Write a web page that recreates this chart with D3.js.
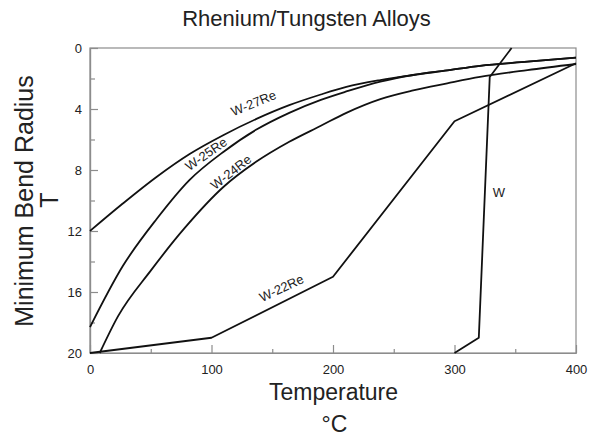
<!DOCTYPE html>
<html>
<head>
<meta charset="utf-8">
<script src="https://cdn.jsdelivr.net/npm/d3@7"></script>
<style>
  html, body { margin: 0; padding: 0; background: #fff; }
  svg { display: block; font-family: "Liberation Sans", Arial, sans-serif; }
</style>
</head>
<body>
<svg id="chart" width="598" height="436"></svg>
<script>
// ---- data ----
const xMajorTicks = [0, 100, 200, 300, 400];
const xMinorTicks = [50, 150, 250, 350];
const yMajorTicks = [0, 4, 8, 12, 16, 20];
const yMinorTicks = [2, 6, 10, 14, 18];

const seriesNames = ["W-27Re", "W-25Re", "W-24Re", "W-22Re", "W"];

const w27Temp = [0, 27, 55, 82, 110, 137, 164, 190, 211, 239, 266, 294, 321, 360, 400];
const w27T    = [12.0, 10.2, 8.44, 6.95, 5.7, 4.65, 3.75, 3.05, 2.55, 2.1, 1.77, 1.47, 1.17, 0.9, 0.63];

const w25Temp = [0, 27, 55, 82, 110, 137, 164, 190, 211, 239, 266, 294, 321, 360, 400];
const w25T    = [18.3, 14.3, 11.2, 8.65, 6.8, 5.35, 4.25, 3.4, 2.85, 2.2, 1.77, 1.47, 1.17, 0.9, 0.63];

const w24Temp = [8, 23, 50, 78, 110, 137, 164, 190, 211, 239, 266, 294, 321, 360, 400];
const w24T    = [20, 17.6, 14.6, 11.8, 9.1, 7.45, 6.15, 5.1, 4.25, 3.35, 2.78, 2.32, 1.9, 1.45, 1.05];

const w22Temp = [0, 100, 200, 300, 400];
const w22T    = [20, 19, 15, 4.8, 1.0];

const wTemp = [300, 320, 329, 347];
const wT    = [20, 19, 1.9, 0];

// ---- layout ----
const svg = d3.select("#chart");
const x = d3.scaleLinear().domain([0, 400]).range([90, 576]);
const y = d3.scaleLinear().domain([0, 20]).range([48, 353]);

const axisColor = "#8c8c8c";
const labelColor = "#222";

// frame
svg.append("rect")
  .attr("x", x(0)).attr("y", y(0))
  .attr("width", x(400) - x(0)).attr("height", y(20) - y(0))
  .attr("fill", "none").attr("stroke", axisColor).attr("stroke-width", 1.2);

// axes
const gx = svg.append("g").attr("transform", `translate(0,${y(20)})`)
  .call(d3.axisBottom(x).tickValues(xMajorTicks).tickSize(-8).tickSizeOuter(0).tickPadding(12).tickFormat(d3.format("d")));
const gxm = svg.append("g").attr("transform", `translate(0,${y(20)})`)
  .call(d3.axisBottom(x).tickValues(xMinorTicks).tickSize(-4).tickSizeOuter(0).tickFormat(""));
const gy = svg.append("g").attr("transform", `translate(${x(0)},0)`)
  .call(d3.axisLeft(y).tickValues(yMajorTicks).tickSize(-8).tickSizeOuter(0).tickPadding(8).tickFormat(d3.format("d")));
const gym = svg.append("g").attr("transform", `translate(${x(0)},0)`)
  .call(d3.axisLeft(y).tickValues(yMinorTicks).tickSize(-5).tickSizeOuter(0).tickFormat(""));

[gx, gxm, gy, gym].forEach(g => {
  g.select(".domain").attr("stroke", axisColor).attr("stroke-width", 1.2);
  g.selectAll(".tick line").attr("stroke", axisColor).attr("stroke-width", 1.2);
  g.selectAll(".tick text").attr("fill", labelColor).attr("font-size", 13)
    .attr("font-family", "'Liberation Sans', Arial, sans-serif");
});

// ---- curves ----
const smooth = d3.line().x(d => x(d[0])).y(d => y(d[1])).curve(d3.curveMonotoneX);
const straight = d3.line().x(d => x(d[0])).y(d => y(d[1]));
const zip = (a, b) => a.map((v, i) => [v, b[i]]);

const curves = [
  { pts: zip(w27Temp, w27T), gen: smooth },
  { pts: zip(w25Temp, w25T), gen: smooth },
  { pts: zip(w24Temp, w24T), gen: smooth },
  { pts: zip(w22Temp, w22T), gen: straight },
  { pts: zip(wTemp, wT), gen: straight }
];
svg.append("g").selectAll("path").data(curves).join("path")
  .attr("d", c => c.gen(c.pts))
  .attr("fill", "none").attr("stroke", "#111").attr("stroke-width", 1.8)
  .attr("stroke-linejoin", "round");

// ---- series labels (domain positions) ----
const labelPos = [
  { t: 134.6, v: 3.61, rot: -22 },
  { t: 95.5, v: 6.95, rot: -35 },
  { t: 116.0, v: 8.13, rot: -38 },
  { t: 157.6, v: 15.74, rot: -25 },
  { t: 336.6, v: 9.44, rot: 0 }
];
svg.append("g").selectAll("text").data(seriesNames).join("text")
  .attr("transform", (d, i) => `translate(${x(labelPos[i].t)},${y(labelPos[i].v)}) rotate(${labelPos[i].rot})`)
  .attr("text-anchor", "middle").attr("dy", "0.35em")
  .attr("font-size", 13).attr("fill", labelColor)
  .text(d => d);

// ---- titles ----
svg.append("text").attr("x", 306.5).attr("y", 26).attr("text-anchor", "middle")
  .attr("font-size", 22).attr("fill", labelColor).text("Rhenium/Tungsten Alloys");

svg.append("text").attr("transform", "translate(33,201) rotate(-90)").attr("text-anchor", "middle")
  .attr("font-size", 25).attr("fill", labelColor).text("Minimum Bend Radius");
svg.append("text").attr("transform", "translate(58,200) rotate(-90)").attr("text-anchor", "middle")
  .attr("font-size", 25).attr("fill", labelColor).text("T");

svg.append("text").attr("x", 333.5).attr("y", 400).attr("text-anchor", "middle")
  .attr("font-size", 23).attr("fill", labelColor).text("Temperature");
svg.append("text").attr("x", 334.5).attr("y", 432).attr("text-anchor", "middle")
  .attr("font-size", 23).attr("fill", labelColor).text("°C");
</script>
</body>
</html>
